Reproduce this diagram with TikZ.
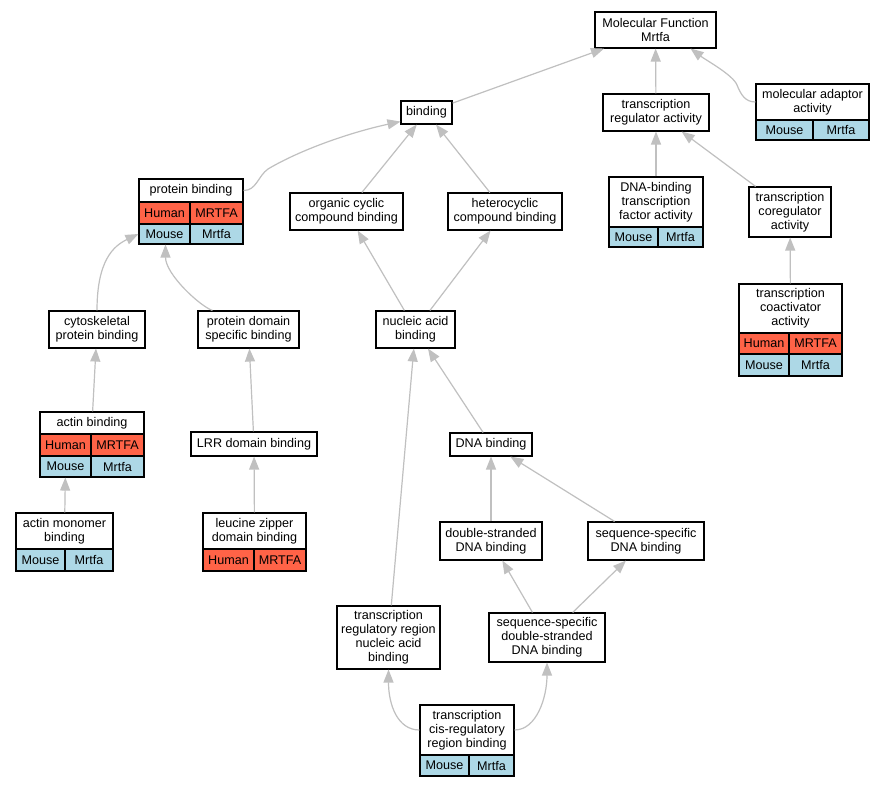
\documentclass[tikz,border=0pt]{standalone}
\usepackage{fontspec}
\setmainfont{Liberation Sans}
\usetikzlibrary{arrows.meta,calc}
\definecolor{edgegray}{RGB}{192,192,192}
\definecolor{humanred}{RGB}{255,99,71}
\definecolor{mouseblue}{RGB}{173,216,230}
\tikzset{
  gbx/.style={draw=black, line width=1.1pt, fill=white, align=center, inner sep=1pt,
    font={\fontsize{12.6}{14}\selectfont}},
  humancell/.style={fill=humanred},
  mousecell/.style={fill=mouseblue},
  gedge/.style={draw=edgegray, line width=1.2pt, -{Triangle[length=13pt,width=10pt]}}
}
\newcommand\gbox[6]{\node[gbx, minimum width={#4-#2}, minimum height={#5-#3}] (#1) at ({(#2+#4)/2},{(#3+#5)/2}) {#6};}
\newcommand\gcell[7]{\node[gbx, #7, minimum width={#4-#2}, minimum height={#5-#3}] (#1) at ({(#2+#4)/2},{(#3+#5)/2}) {#6};}
\begin{document}
\begin{tikzpicture}[x=1pt,y=-1pt]
\useasboundingbox[fill=white] (0,0) rectangle (884,787);
% nodes
\gbox{mf}{595}{12}{716}{48}{Molecular Function\\Mrtfa}
\gbox{bind}{401}{101}{452}{124}{binding}
\gbox{tra}{603}{94}{709}{131}{transcription\\regulator activity}
\gbox{maa}{756}{84}{869}{120}{molecular adaptor\\activity}
\gcell{maaM}{756}{120}{813}{140}{Mouse}{mousecell}
\gcell{maaG}{813}{120}{869}{140}{Mrtfa}{mousecell}
\gbox{pb}{139}{179}{243}{202}{protein binding}
\gcell{pbH}{139}{202}{190}{224}{Human}{humancell}
\gcell{pbHG}{190}{202}{243}{224}{MRTFA}{humancell}
\gcell{pbM}{139}{224}{190}{244}{Mouse}{mousecell}
\gcell{pbMG}{190}{224}{243}{244}{Mrtfa}{mousecell}
\gbox{occb}{290}{193}{403}{230}{organic cyclic\\compound binding}
\gbox{hcb}{448}{193}{562}{230}{heterocyclic\\compound binding}
\gbox{dbtfa}{609}{177}{703}{227}{DNA-binding\\transcription\\factor activity}
\gcell{dbtfaM}{609}{227}{658}{247}{Mouse}{mousecell}
\gcell{dbtfaG}{658}{227}{703}{247}{Mrtfa}{mousecell}
\gbox{tcr}{749}{187}{831}{237}{transcription\\coregulator\\activity}
\gbox{cyto}{49}{311}{145}{348}{cytoskeletal\\protein binding}
\gbox{pdsb}{198}{311}{299}{348}{protein domain\\specific binding}
\gbox{nab}{376}{311}{455}{348}{nucleic acid\\binding}
\gbox{tca}{739}{284}{842}{333}{transcription\\coactivator\\activity}
\gcell{tcaH}{739}{333}{789}{354}{Human}{humancell}
\gcell{tcaHG}{789}{333}{842}{354}{MRTFA}{humancell}
\gcell{tcaM}{739}{354}{789}{376}{Mouse}{mousecell}
\gcell{tcaMG}{789}{354}{842}{376}{Mrtfa}{mousecell}
\gbox{ab}{40}{412}{144}{434}{actin binding}
\gcell{abH}{40}{434}{91}{456}{Human}{humancell}
\gcell{abHG}{91}{434}{144}{456}{MRTFA}{humancell}
\gcell{abM}{40}{456}{91}{477}{Mouse}{mousecell}
\gcell{abMG}{91}{456}{144}{477}{Mrtfa}{mousecell}
\gbox{lrr}{191}{432}{317}{456}{LRR domain binding}
\gbox{dna}{450}{433}{532}{456}{DNA binding}
\gbox{am}{16}{513}{113}{549}{actin monomer\\binding}
\gcell{amM}{16}{549}{65}{571}{Mouse}{mousecell}
\gcell{amG}{65}{549}{113}{571}{Mrtfa}{mousecell}
\gbox{lz}{203}{513}{306}{549}{leucine zipper\\domain binding}
\gcell{lzH}{203}{549}{254}{571}{Human}{humancell}
\gcell{lzHG}{254}{549}{306}{571}{MRTFA}{humancell}
\gbox{ds}{440}{522}{542}{560}{double-stranded\\DNA binding}
\gbox{ss}{588}{522}{704}{560}{sequence-specific\\DNA binding}
\gbox{trr}{337}{606}{440}{669}{transcription\\regulatory region\\nucleic acid\\binding}
\gbox{ssds}{489}{613}{605}{662}{sequence-specific\\double-stranded\\DNA binding}
\gbox{tcrrb}{420}{705}{514}{755}{transcription\\cis-regulatory\\region binding}
\gcell{tcrrbM}{420}{755}{469}{776}{Mouse}{mousecell}
\gcell{tcrrbG}{469}{755}{514}{776}{Mrtfa}{mousecell}
% helper coordinates
\coordinate (maabend) at (737,85);
\coordinate (pbbend) at (268,169);
% edges
\draw[gedge] (bind) -- (mf);
\draw[gedge] (tra) -- (mf);
\draw[gedge] (maa.west) .. controls +(-10,0) and +(4,10) .. (maabend)
  .. controls +(-4,-10) and +(16,12) .. ($(mf.south east)+(-26,0)$);
\draw[gedge] (pb.east) .. controls +(13,0) and +(-10,7) .. (pbbend)
  .. controls +(32,-19) and +(-51,11) .. ($(bind.south west)+(0,-3)$);
\draw[gedge] (occb) -- (bind);
\draw[gedge] (hcb) -- (bind);
\draw[gedge] (dbtfa) -- (tra);
\draw[gedge] (tcr) -- (tra);
\draw[gedge] (cyto.north) .. controls +(0,-50) and +(-25,12) .. (pbM.west);
\draw[gedge] ($(pdsb.north west)+(15,0)$) .. controls +(-12,-4) and +(0,30) .. ($(pbM.south)+(1,0)$);
\draw[gedge] (nab) -- (occb);
\draw[gedge] (nab) -- (hcb);
\draw[gedge] (tca) -- (tcr);
\draw[gedge] (ab) -- (cyto);
\draw[gedge] (lrr) -- (pdsb);
\draw[gedge] (dna) -- (nab);
\draw[gedge] (trr) -- (nab);
\draw[gedge] (am) -- (abM);
\draw[gedge] (lz) -- (lrr);
\draw[gedge] (ds) -- (dna);
\draw[gedge] (ss) -- (dna);
\draw[gedge] (ssds) -- (ds);
\draw[gedge] (ssds) -- (ss);
\draw[gedge] (tcrrb.west) .. controls +(-22,0) and +(0,35) .. (trr.south);
\draw[gedge] (tcrrb.east) .. controls +(22,0) and +(0,35) .. (ssds.south);
\end{tikzpicture}
\end{document}
